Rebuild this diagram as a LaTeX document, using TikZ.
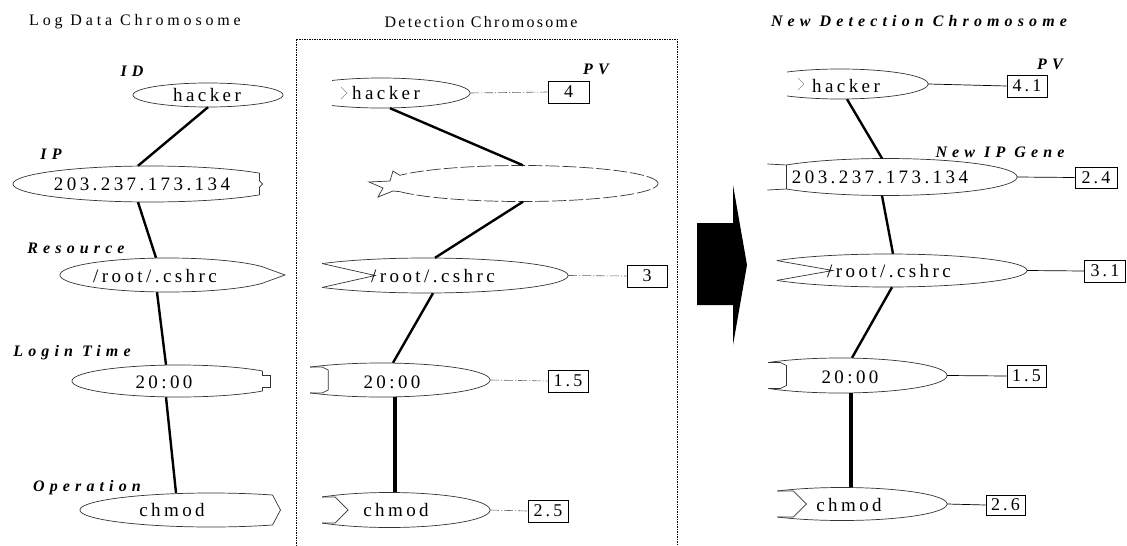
\documentclass[tikz,border=0pt]{standalone}
\usepackage{fontspec}
\setmainfont{Liberation Serif}
\newfontfamily\spacedserif[LetterSpace=24]{Liberation Serif}
\newfontfamily\narrowserif[LetterSpace=14]{Liberation Serif}
\newfontfamily\genefont[LetterSpace=18]{Liberation Serif}
\newfontfamily\tagfont[LetterSpace=32]{Liberation Serif}
\usetikzlibrary{calc}

\tikzset{
  title/.style={inner sep=0, font=\spacedserif\fontsize{16}{19}\selectfont},
  tag/.style={inner sep=0, font=\tagfont\fontsize{16}{19}\selectfont\bfseries\itshape},
  genetext/.style={inner sep=0, font=\genefont\fontsize{19}{22}\selectfont},
  genebox/.style 2 args={draw=none, inner sep=0, minimum width=#1, minimum height=#2},
  outline/.style={line width=0.7pt, draw=black!80},
  faint/.style={line width=0.6pt, draw=black!45},
  link/.style={line width=2.4pt},
  thicklink/.style={line width=3.6pt},
  pvbox/.style={draw, line width=0.8pt, minimum width=40pt, minimum height=22pt, inner sep=0,
                font=\genefont\fontsize{18}{20}\selectfont},
  pvlinkM/.style={line width=0.6pt, draw=black!60, dash pattern=on 9pt off 2pt on 1pt off 2pt},
  pvlinkR/.style={line width=0.7pt},
  frame/.style={line width=1pt, dash pattern=on 1.5pt off 1pt},
}

% gene outline: elliptic top and bottom arcs, optionally cut at the ends
% #1 centre x, #2 centre y, #3 half width, #4 half height,
% #5 left cut angle, #6 right cut angle, #7 extra style
\newcommand\geneshape[7]{%
  \pgfmathsetmacro\gTopEnd{180-#5}%
  \pgfmathsetmacro\gBotStart{180+#5}%
  \pgfmathsetmacro\gBotEnd{360-#6}%
  \draw[outline,#7] plot[domain=#6:\gTopEnd, samples=70, variable=\t]
    ({#1+#3*cos(\t)},{#2-#4*sin(\t)});
  \draw[outline,#7] plot[domain=\gBotStart:\gBotEnd, samples=70, variable=\t]
    ({#1+#3*cos(\t)},{#2-#4*sin(\t)});
  \coordinate (LT) at ({#1-#3*cos(#5)},{#2-#4*sin(#5)});
  \coordinate (LB) at ({#1-#3*cos(#5)},{#2+#4*sin(#5)});
  \coordinate (RT) at ({#1+#3*cos(#6)},{#2-#4*sin(#6)});
  \coordinate (RB) at ({#1+#3*cos(#6)},{#2+#4*sin(#6)});
}

\begin{document}
\begin{tikzpicture}[x=1pt,y=-1pt]
\useasboundingbox (0,0) rectangle (1127,546);

% ---------- titles ----------
\node[title] (t1) at (135,22) {Log Data Chromosome};
\node[title, font=\narrowserif\fontsize{16}{19}\selectfont] (t2) at (481,22) {Detection Chromosome};
\node[tag]   (t3) at (919,21) {New Detection Chromosome};

% ---------- frame round the detection chromosome ----------
\draw[frame] (296,546) -- (296,39) -- (677,39) -- (677,546);

% ---------- log data chromosome ----------
\geneshape{208}{95}{75}{12}{0}{0}{}
\node[genebox={150}{24}] (hackerL) at (208,95) {};
\node[genetext] (hackerLt) at (207,95) {hacker};

\geneshape{150}{184}{137}{18}{0}{36.87}{}
\draw[outline] (RT) -- ($(RT)!.5!(RB)+(0,-3)$) -- ++(3,3) -- ++(-3,3) -- (RB);
\node[genebox={274}{36}] (ipL) at (150,184) {};
\node[genetext] (ipLt) at (142,184) {203.237.173.134};

\geneshape{168}{275}{108}{17}{0}{29.5}{}
\draw[outline] (RT) -- ($(RT)!.5!(RB)+(23,0)$) -- (RB);
\node[genebox={216}{34}] (resL) at (168,275) {};
\node[genetext] (resLt) at (155,276) {/root/.cshrc};

\geneshape{179}{381}{107}{16}{0}{38.7}{}
\draw[outline] (RT) -- ($(RT)!.5!(RB)+(0,-6)$) -- ++(8,0) -- ++(0,12) -- ++(-8,0) -- (RB);
\node[genebox={214}{32}] (timeL) at (179,381) {};
\node[genetext] (timeLt) at (164,382) {20:00};

\geneshape{211}{510}{131}{17}{0}{62}{}
\draw[outline] (RT) -- ($(RT)!.5!(RB)+(8,0)$) -- (RB);
\node[genebox={262}{34}] (chmodL) at (211,510) {};
\node[genetext] (chmodLt) at (172,510) {chmod};

\node[tag] (lbID) at (132,71) {ID};
\node[tag] (lbIP) at (51,154) {IP};
\node[tag] (lbRes) at (76,248) {Resource};
\node[tag] (lbTime) at (72,353) {Login Time};
\node[tag] (lbOp) at (87,488) {Operation};

\draw[link] (hackerL.south) -- ([xshift=-12pt]ipL.north);
\draw[link] ([xshift=-12pt]ipL.south) -- ([xshift=-12pt]resL.north);
\draw[link] ([xshift=-11pt]resL.south) -- ([xshift=-13pt]timeL.north);
\draw[link] ([xshift=-13pt]timeL.south) -- ([xshift=-35pt]chmodL.north);

% ---------- detection chromosome ----------
\geneshape{381}{93}{89}{15}{56.6}{0}{}
\draw[faint] ($(LT)!.5!(LB)+(9,-6)$) -- ++(6,6) -- ++(-6,6);
\node[genebox={178}{30}] (hackerM) at (381,93) {};
\node[genetext] (hackerMt) at (386,93) {hacker};

\geneshape{521.5}{183.5}{136.5}{18}{27}{0}{dash pattern=on 14pt off 3pt}
\draw[outline] (LT) -- (393,171) -- (390,181) -- (369,182) -- (383,188) -- (378,197) -- (393,191) -- (LB);
\node[genebox={273}{36}] (ipM) at (521.5,183.5) {};

\geneshape{426}{275.5}{142}{17.5}{43}{0}{}
\draw[outline] (LT) -- ($(LT)!.5!(LB)+(53,0)$) -- (LB);
\node[genebox={284}{35}] (resM) at (426,275.5) {};
\node[genetext] (resMt) at (433,276) {/root/.cshrc};

\geneshape{381}{380}{109}{17}{49.5}{0}{}
\draw[outline] (LT) -- ++(12,0) -- ++(6,3) -- ($(LB)+(18,-3)$) -- ($(LB)+(12,0)$) -- (LB);
\node[genebox={218}{34}] (timeM) at (381,380) {};
\node[genetext] (timeMt) at (392,382) {20:00};

\geneshape{389.4}{510}{100.6}{17.5}{48}{0}{}
\draw[outline] (LT) -- ++(13,0) -- ($(LT)!.5!(LB)+(26,0)$) -- ($(LB)+(13,0)$) -- (LB);
\node[genebox={201.2}{35}] (chmodM) at (389.4,510) {};
\node[genetext] (chmodMt) at (396,510) {chmod};

\node[pvbox, minimum width=41pt] (pv4) at (568.5,92) {4};
\node[pvbox] (pv3) at (647,276) {3};
\node[pvbox] (pv15M) at (568,381) {1.5};
\node[pvbox] (pv25) at (548,511) {2.5};
\node[tag] (lbPVM) at (596,69) {PV};

\draw[pvlinkM] (hackerM.east) -- (pv4.west);
\draw[pvlinkM] (resM.east) -- (pv3.west);
\draw[pvlinkM] (timeM.east) -- (pv15M.west);
\draw[pvlinkM] (chmodM.east) -- (pv25.west);

\draw[link] ([xshift=9pt]hackerM.south) -- ([xshift=1.5pt]ipM.north);
\draw[link] ([xshift=1.5pt]ipM.south) -- ([xshift=9pt]resM.north);
\draw[link] ([xshift=7pt]resM.south) -- ([xshift=12pt]timeM.north);
\draw[thicklink] ([xshift=14pt]timeM.south) -- ([xshift=5.6pt]chmodM.north);

% ---------- block arrow ----------
\fill (697,223) -- (733,223) -- (733,185) -- (747,265) -- (733,345) -- (733,305) -- (697,305) -- cycle;

% ---------- new detection chromosome ----------
\geneshape{840}{84}{88}{15}{53}{0}{}
\draw[faint] ($(LT)!.5!(LB)+(11,-6)$) -- ++(6,6) -- ++(-6,6);
\node[genebox={176}{30}] (hackerR) at (840,84) {};
\node[genetext] (hackerRt) at (846,86) {hacker};

\geneshape{886}{177}{131}{18.5}{40.5}{0}{}
\draw[outline] (LT) -- (LB);
\draw[outline] (LT) -- ++(-19,-1);
\draw[outline] (LB) -- ++(-19,1);
\node[genebox={262}{37}] (ipR) at (886,177) {};
\node[genetext] (ipRt) at (880,177) {203.237.173.134};

\geneshape{888}{270.5}{139}{16.5}{36.9}{0}{}
\draw[outline] (LT) -- ($(LT)!.5!(LB)+(56,0)$) -- (LB);
\node[genebox={278}{33}] (resR) at (888,270.5) {};
\node[genetext] (resRt) at (889,271) {/root/.cshrc};

\geneshape{840}{375.5}{107}{17.5}{48}{0}{}
\draw[outline] (LT) -- ++(12,0) -- ++(6,3) -- ($(LB)+(18,-3)$) -- ($(LB)+(12,0)$) -- (LB);
\node[genebox={214}{35}] (timeR) at (840,375.5) {};
\node[genetext] (timeRt) at (850,377) {20:00};

\geneshape{842}{504}{105}{16.5}{52}{0}{}
\draw[outline] (LT) -- ++(16,0) -- ($(LT)!.5!(LB)+(29,0)$) -- ($(LB)+(16,0)$) -- (LB);
\node[genebox={210}{33}] (chmodR) at (842,504) {};
\node[genetext] (chmodRt) at (849,505) {chmod};

\node[pvbox] (pv41) at (1027,86) {4.1};
\node[pvbox, minimum width=42pt, minimum height=21pt] (pv24) at (1096,177.5) {2.4};
\node[pvbox, minimum width=41pt] (pv31) at (1105,271) {3.1};
\node[pvbox, minimum width=39pt] (pv15R) at (1026.5,376) {1.5};
\node[pvbox, minimum width=39pt, minimum height=20pt] (pv26) at (1005.5,505) {2.6};
\node[tag] (lbPVR) at (1050,64) {PV};
\node[tag] (lbNewIP) at (1000,152) {New IP Gene};

\draw[pvlinkR] (hackerR.east) -- (pv41.west);
\draw[pvlinkR] (ipR.east) -- (pv24.west);
\draw[pvlinkR] (resR.east) -- (pv31.west);
\draw[pvlinkR] (timeR.east) -- (pv15R.west);
\draw[pvlinkR] (chmodR.east) -- (pv26.west);

\draw[link] ([xshift=7pt]hackerR.south) -- ([xshift=-4pt]ipR.north);
\draw[link] ([xshift=-4pt]ipR.south) -- ([xshift=5pt]resR.north);
\draw[link] ([xshift=4pt]resR.south) -- ([xshift=12pt]timeR.north);
\draw[thicklink] ([xshift=11pt]timeR.south) -- ([xshift=9pt]chmodR.north);
\end{tikzpicture}
\end{document}
